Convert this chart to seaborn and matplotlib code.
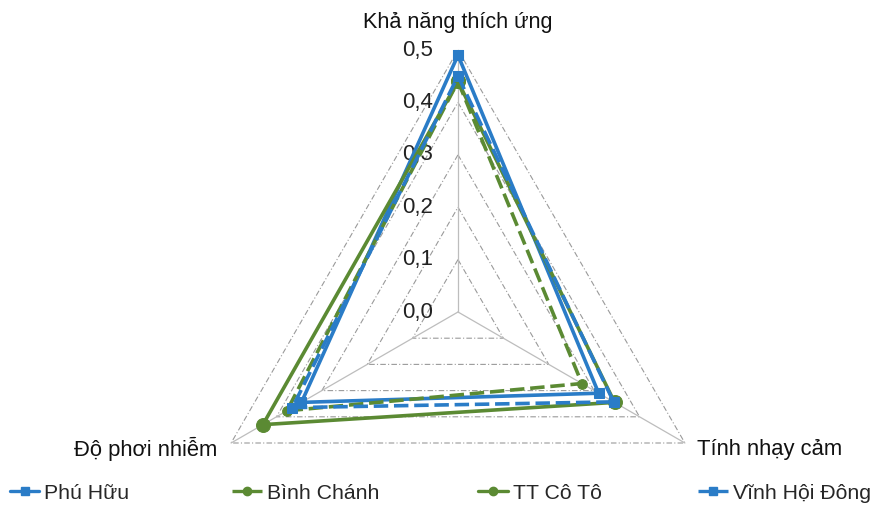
import numpy as np
import pandas as pd
import matplotlib
matplotlib.use("Agg")
import matplotlib.pyplot as plt
import seaborn as sns

categories = ["Khả năng thích ứng", "Tính nhạy cảm", "Độ phơi nhiễm"]
series_names = ["Phú Hữu", "Bình Chánh", "TT Cô Tô", "Vĩnh Hội Đông"]
phu_huu = [0.49, 0.31, 0.345]
binh_chanh = [0.44, 0.273, 0.377]
tt_co_to = [0.44, 0.345, 0.43]
vinh_hoi_dong = [0.45, 0.343, 0.365]
tick_values = [0.0, 0.1, 0.2, 0.3, 0.4, 0.5]
tick_labels = ["0,0", "0,1", "0,2", "0,3", "0,4", "0,5"]

sns.set_style("white")
plt.rcParams["font.family"] = ["Liberation Sans", "DejaVu Sans"]

BLUE = "#2A7CC7"
GREEN = "#5B8A33"

W, H = 876, 511
fig = plt.figure(figsize=(W / 100, H / 100), dpi=100)
ax = fig.add_axes([0, 0, 1, 1])
scale = 524.0  # pixels per data unit
cx, cy = 458, 312  # center in pixels (from top)
XL = (-cx / scale, (W - cx) / scale)
YL = (-(H - cy) / scale, cy / scale)

angles = np.deg2rad([90, -30, 210])


def to_xy(vals):
    vals = np.asarray(vals, dtype=float)
    x = vals * np.cos(angles)
    y = vals * np.sin(angles)
    return np.append(x, x[0]), np.append(y, y[0])


# grid triangles
for t in tick_values[1:]:
    gx, gy = to_xy([t] * 3)
    ax.plot(gx, gy, color="#9A9A9A", lw=0.8, linestyle=(0, (5, 2, 1, 2)), zorder=1)
# spokes
rmax = tick_values[-1]
for a in angles:
    ax.plot([0, rmax * np.cos(a)], [0, rmax * np.sin(a)], color="#BDBDBD", lw=0.9, zorder=1)

# tick labels
for t, lab in zip(tick_values, tick_labels):
    ax.text(-0.047, t, lab, ha="right", va="center", fontsize=16, color="#222222", zorder=2)

# category labels
ax.text(0, rmax + 0.053, categories[0], ha="center", va="center", fontsize=15.6, color="#111111")
ax.text(rmax * np.cos(angles[1]) + 0.024, rmax * np.sin(angles[1]) - 0.012, categories[1],
        ha="left", va="center", fontsize=15.8, color="#111111")
ax.text(rmax * np.cos(angles[2]) - 0.027, rmax * np.sin(angles[2]) - 0.012, categories[2],
        ha="right", va="center", fontsize=15.8, color="#111111")

styles = [
    dict(color=BLUE, linestyle="-", marker="s", markersize=7),
    dict(color=GREEN, linestyle=(0, (4, 1.6)), marker="o", markersize=7),
    dict(color=GREEN, linestyle="-", marker="o", markersize=10),
    dict(color=BLUE, linestyle=(0, (4, 1.6)), marker="s", markersize=7),
]
data = [phu_huu, binh_chanh, tt_co_to, vinh_hoi_dong]
handles = []
for name, vals, st in zip(series_names, data, styles):
    x, y = to_xy(vals)
    df = pd.DataFrame({"x": x, "y": y})
    sns.lineplot(data=df, x="x", y="y", sort=False, estimator=None, ax=ax, color=st["color"],
                 linestyle=st["linestyle"], lw=2.6, marker=st["marker"],
                 markersize=st["markersize"], markeredgecolor=st["color"], zorder=3)
    handles.append(plt.Line2D([], [], color=st["color"], linestyle=st["linestyle"], lw=2.4,
                              marker=st["marker"], markersize=6, markeredgecolor=st["color"]))

if ax.get_legend():
    ax.get_legend().remove()
ax.set_xlim(*XL)
ax.set_ylim(*YL)
ax.set_aspect("auto")
ax.axis("off")

legend_x = [0.011, 0.265, 0.546, 0.797]
for h, name, lx in zip(handles, series_names, legend_x):
    fig.legend([h], [name], loc="center left", bbox_to_anchor=(lx, 0.035),
               frameon=False, fontsize=15.3, handlelength=1.4, handletextpad=0.22,
               borderaxespad=0.0, borderpad=0.0)

fig.savefig("out.png", dpi=100)
